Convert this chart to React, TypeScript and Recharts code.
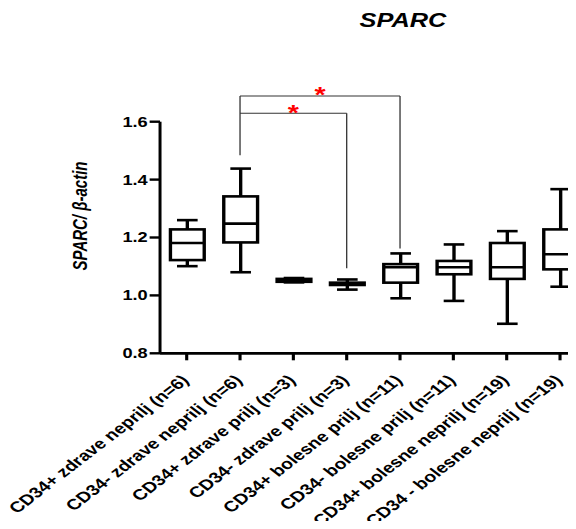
import React from "react";
import {
  BarChart,
  Bar,
  XAxis,
  YAxis,
  Label,
  ReferenceLine,
} from "recharts";

const groups = [
  "CD34+ zdrave neprilj (n=6)",
  "CD34- zdrave neprilj (n=6)",
  "CD34+ zdrave prilj (n=3)",
  "CD34- zdrave prilj (n=3)",
  "CD34+ bolesne prilj (n=11)",
  "CD34- bolesne prilj (n=11)",
  "CD34+ bolesne neprilj (n=19)",
  "CD34 - bolesne neprilj (n=19)",
];
const mins = [1.101, 1.08, 1.045, 1.02, 0.99, 0.981, 0.902, 1.03];
const q1s = [1.122, 1.183, 1.047, 1.036, 1.044, 1.073, 1.057, 1.09];
const medians = [1.181, 1.248, 1.052, 1.04, 1.097, 1.097, 1.097, 1.142];
const q3s = [1.228, 1.342, 1.057, 1.044, 1.108, 1.119, 1.181, 1.228];
const maxs = [1.26, 1.438, 1.06, 1.055, 1.145, 1.176, 1.222, 1.367];
const yTicks = [0.8, 1.0, 1.2, 1.4, 1.6];

// significance brackets: [from group, to group, bar level, right drop]
const brackets: [number, number, number, number][] = [
  [1, 3, 1.629, 1.094],
  [1, 4, 1.689, 1.162],
];
const leftDrop = 1.484;

const data = groups.map((name, i) => ({
  name,
  min: mins[i],
  q1: q1s[i],
  median: medians[i],
  q3: q3s[i],
  max: maxs[i],
}));

const FONT = "Arial, 'Liberation Sans', sans-serif";
// the source figure is stretched horizontally
const STRETCH = 1.3;
const W = 460;
const H = 529;

const BoxShape = (props: any) => {
  const { x, y, width, height, payload } = props;
  const top = Math.min(y, y + height);
  const h = Math.abs(height);
  const span = payload.max - payload.min;
  const py = (v: number) => top + ((payload.max - v) / span) * h;
  const cx = x + width / 2;
  const cap = width * 0.61;
  return (
    <g stroke="#000" strokeWidth={2.6} fill="none">
      <line x1={cx} x2={cx} y1={py(payload.max)} y2={py(payload.q3)} />
      <line x1={cx} x2={cx} y1={py(payload.q1)} y2={py(payload.min)} />
      <line x1={cx - cap / 2} x2={cx + cap / 2} y1={py(payload.max)} y2={py(payload.max)} />
      <line x1={cx - cap / 2} x2={cx + cap / 2} y1={py(payload.min)} y2={py(payload.min)} />
      <rect
        x={x}
        y={py(payload.q3)}
        width={width}
        height={py(payload.q1) - py(payload.q3)}
        fill="#fff"
      />
      <line x1={x} x2={x + width} y1={py(payload.median)} y2={py(payload.median)} />
    </g>
  );
};

const XTick = (props: any) => {
  const { x, y, payload } = props;
  return (
    <text
      transform={`translate(${x + 2.5},${y + 19}) rotate(-45)`}
      textAnchor="end"
      fontFamily={FONT}
      fontWeight="bold"
      fontSize={15}
      fill="#000"
    >
      {payload.value}
    </text>
  );
};

const YLabel = (props: any) => {
  const vb = props.viewBox;
  const lx = vb.x + 3.8;
  const ly = vb.y + 94.3;
  return (
    <text
      transform={`translate(${lx},${ly}) rotate(-90)`}
      textAnchor="middle"
      fontFamily={FONT}
      fontWeight="bold"
      fontStyle="italic"
      fontSize={15}
      fill="#000"
    >
      SPARC/ β-actin
    </text>
  );
};

const App: React.FC = () => {
  return (
    <div
      style={{
        width: 576,
        height: H,
        margin: -8,
        overflow: "hidden",
        position: "relative",
        background: "#fff",
      }}
    >
      <div
        style={{
          width: W,
          height: H,
          transform: `scaleX(${STRETCH})`,
          transformOrigin: "0 0",
          position: "relative",
        }}
      >
        <svg
          width={W}
          height={40}
          style={{ position: "absolute", left: 0, top: 0 }}
        >
          <text
            x={310}
            y={27.3}
            textAnchor="middle"
            fontFamily={FONT}
            fontWeight="bold"
            fontStyle="italic"
            fontSize={19.5}
            fill="#000"
          >
            SPARC
          </text>
        </svg>
        <BarChart
          width={W}
          height={H}
          data={data}
          margin={{ top: 121.7, right: 8.7, bottom: 0, left: 63.1 }}
          style={{ fontFamily: FONT }}
        >
          <XAxis
            dataKey="name"
            interval={0}
            height={175.7}
            tickSize={7}
            tick={<XTick />}
            axisLine={{ stroke: "#000", strokeWidth: 2.7 }}
            tickLine={{ stroke: "#000", strokeWidth: 2.4 }}
          />
          <YAxis
            width={60}
            domain={[0.8, 1.6]}
            ticks={yTicks}
            tickFormatter={(v: number) => v.toFixed(1)}
            tickSize={8}
            tickMargin={1.5}
            tick={{ fill: "#000", fontSize: 14, fontWeight: "bold", fontFamily: FONT }}
            axisLine={{ stroke: "#000", strokeWidth: 2.3 }}
            tickLine={{ stroke: "#000", strokeWidth: 2.4 }}
          >
            <Label content={YLabel} />
          </YAxis>
          <Bar
            dataKey={(d: any) => [d.min, d.max]}
            barSize={26}
            shape={<BoxShape />}
            isAnimationActive={false}
          />
          <ReferenceLine
            segment={[
              { x: groups[1], y: brackets[1][2] },
              { x: groups[1], y: leftDrop },
            ]}
            stroke="#333"
            strokeWidth={1}
            ifOverflow="visible"
          />
          {brackets.map(([a, b, level], i) => (
            <ReferenceLine
              key={`h${i}`}
              segment={[
                { x: groups[a], y: level },
                { x: groups[b], y: level },
              ]}
              stroke="#333"
              strokeWidth={1}
              ifOverflow="visible"
              label={{
                value: "*",
                position: "top",
                offset: -6.5,
                fill: "#ff0000",
                fontSize: 22,
                fontWeight: "bold",
                fontFamily: FONT,
              }}
            />
          ))}
          {brackets.map(([, b, level, drop], i) => (
            <ReferenceLine
              key={`v${i}`}
              segment={[
                { x: groups[b], y: level },
                { x: groups[b], y: drop },
              ]}
              stroke="#333"
              strokeWidth={1}
              ifOverflow="visible"
            />
          ))}
        </BarChart>
      </div>
    </div>
  );
};

export default App;
